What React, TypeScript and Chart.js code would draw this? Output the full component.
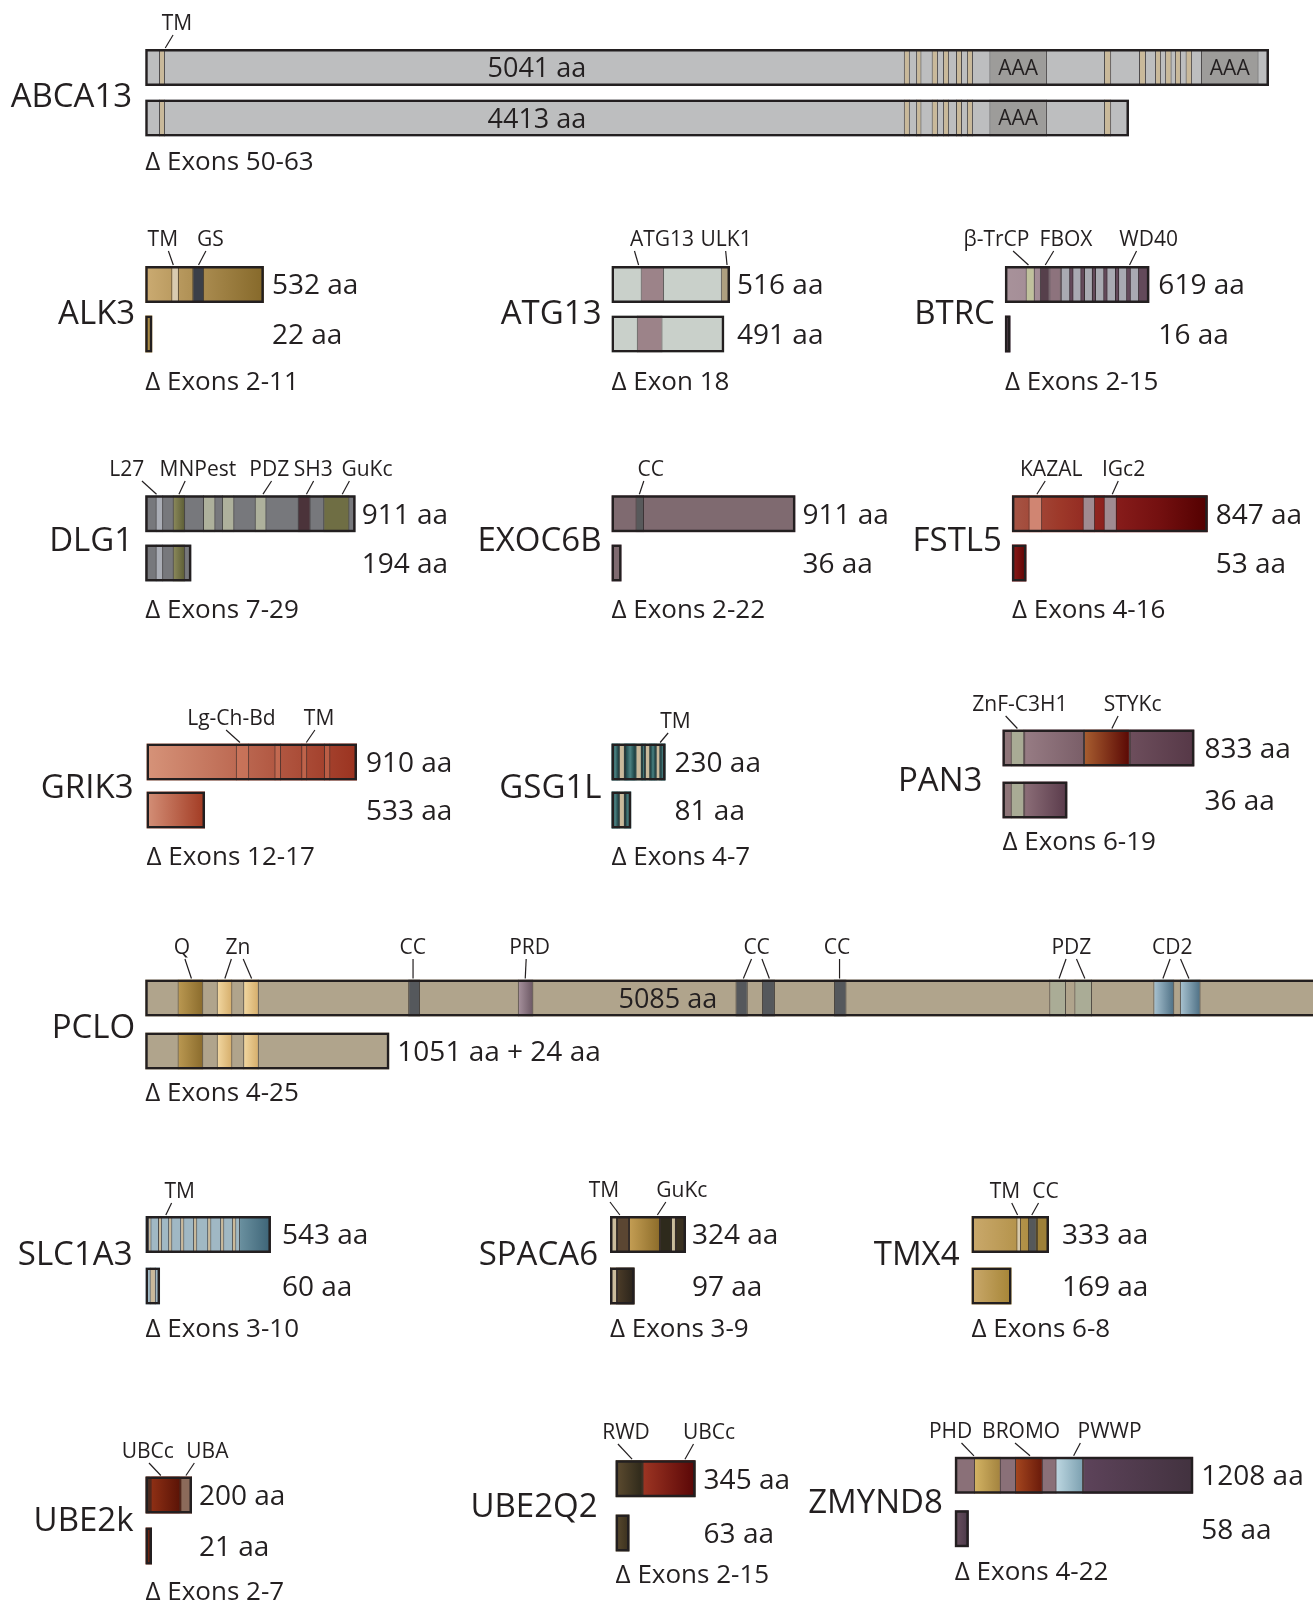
import React, { useEffect, useRef } from 'react';
import { Chart, registerables } from 'chart.js';

Chart.register(...registerables);

type Seg = [number, number, string];
type Lbl = [string, number, [number, number][]];

const W = 1313;
const H = 1600;
const INK = '#231f20';
const DOMAIN_EDGE = 'rgba(40,36,37,0.75)';
const FAMILY = '"Open Sans", "Noto Sans", sans-serif';
const FS = { name: 33, aa: 28, delta: 26, label: 21, aaa: 21, inner: 27 };

// ---------------- data (amino-acid units) ----------------
const ABCA13_AA = [5041, 4413];
const ABCA13_DRAWN = [5041, 4413];
const ABCA13_MAIN: Seg[] = [
  [62, 89, 'tm'],
  [3403, 3430, 'tm'], [3458, 3482, 'tm'], [3528, 3556, 'tm'], [3579, 3606, 'tm'], [3637, 3664, 'tm'], [3686, 3713, 'tm'],
  [3787, 4045, 'aaa'],
  [4301, 4333, 'tm'],
  [4458, 4489, 'tm'], [4530, 4557, 'tm'], [4575, 4604, 'tm'], [4619, 4646, 'tm'], [4667, 4696, 'tm'],
  [4736, 4994, 'aaa'],
];
const ABCA13_ISO: Seg[] = [
  [62, 89, 'tm'],
  [3403, 3430, 'tm'], [3458, 3482, 'tm'], [3528, 3556, 'tm'], [3579, 3606, 'tm'], [3637, 3664, 'tm'], [3686, 3713, 'tm'],
  [3787, 4045, 'aaa'],
  [4301, 4333, 'tm'],
];
const ABCA13_LABELS: Lbl[] = [['TM', 142, [[125, 90]]]];

const ALK3_AA = [532, 22];
const ALK3_DRAWN = [532, 32];
const ALK3_MAIN: Seg[] = [[117, 151, 'tm'], [211, 264, 'gs']];
const ALK3_ISO: Seg[] = [];
const ALK3_LABELS: Lbl[] = [['TM', 79, [[104, 126]]], ['GS', 292, [[272, 239]]]];

const ATG13_AA = [516, 491];
const ATG13_DRAWN = [516, 491];
const ATG13_MAIN: Seg[] = [[127, 229, 'atg'], [476, 512, 'ulk']];
const ATG13_ISO: Seg[] = [[110, 222, 'atg']];
const ATG13_LABELS: Lbl[] = [['ATG13', 220, [[100, 118]]], ['ULK1', 499, [[497, 503]]]];

const BTRC_AA = [619, 16];
const BTRC_DRAWN = [619, 24];
const BTRC_MAIN: Seg[] = [
  [89, 128, 'olive'], [150, 191, 'dark'], [191, 239, 'mauve'], [239, 619, 'wdbg'],
  [239, 280, 'wd'], [289, 328, 'wd'], [339, 377, 'wd'], [386, 426, 'wd'], [435, 476, 'wd'], [485, 524, 'wd'], [535, 575, 'wd'],
];
const BTRC_ISO: Seg[] = [];
const BTRC_LABELS: Lbl[] = [['β-TrCP', -36, [[35, 101]]], ['FBOX', 262, [[209, 173]]], ['WD40', 616, [[564, 534]]]];

const DLG1_AA = [911, 194];
const DLG1_DRAWN = [911, 200];
const DLG1_MAIN: Seg[] = [
  [45, 78, 'l27'], [119, 173, 'olive'], [250, 304, 'sage'], [332, 386, 'sage'], [474, 525, 'sage'], [660, 716, 'sh3'], [771, 884, 'gukc'],
];
const DLG1_ISO: Seg[] = [[45, 78, 'l27'], [119, 173, 'olive']];
const DLG1_LABELS: Lbl[] = [
  ['L27', -80, [[-14, 49]]], ['MNPest', 228, [[173, 146]]], ['PDZ', 537, [[547, 510]]], ['SH3', 727, [[729, 698]]], ['GuKc', 960, [[884, 853]]],
];

const EXOC6B_AA = [911, 36];
const EXOC6B_DRAWN = [911, 50];
const EXOC6B_MAIN: Seg[] = [[119, 161, 'cc']];
const EXOC6B_ISO: Seg[] = [];
const EXOC6B_LABELS: Lbl[] = [['CC', 194, [[160, 138]]]];

const FSTL5_AA = [847, 53];
const FSTL5_DRAWN = [847, 63];
const FSTL5_MAIN: Seg[] = [[72, 131, 'kazal'], [306, 360, 'mg'], [397, 454, 'mg']];
const FSTL5_ISO: Seg[] = [];
const FSTL5_LABELS: Lbl[] = [['KAZAL', 170, [[144, 108]]], ['IGc2', 483, [[460, 434]]]];

const GRIK3_AA = [910, 533];
const GRIK3_DRAWN = [910, 253];
const GRIK3_MAIN: Seg[] = [[386, 444, 'seg'], [553, 582, 'seg'], [669, 695, 'seg'], [767, 795, 'seg']];
const GRIK3_ISO: Seg[] = [];
const GRIK3_LABELS: Lbl[] = [['Lg-Ch-Bd', 367, [[344, 404]]], ['TM', 746, [[728, 691]]]];

const GSG1L_AA = [230, 81];
const GSG1L_DRAWN = [230, 84];
const GSG1L_MAIN: Seg[] = [
  [0, 31, 'teal'], [31, 57, 'tm'], [57, 102, 'teal'], [102, 129, 'tm'], [129, 142, 'teal'], [142, 165, 'tm'],
  [165, 188, 'teal'], [188, 208, 'tm'], [208, 230, 'teal'],
];
const GSG1L_ISO: Seg[] = [[0, 31, 'teal'], [31, 57, 'tm'], [57, 84, 'teal']];
const GSG1L_LABELS: Lbl[] = [['TM', 272, [[241, 207]]]];

const PAN3_AA = [833, 36];
const PAN3_DRAWN = [833, 282];
const PAN3_MAIN: Seg[] = [[36, 95, 'znf'], [95, 354, 'm1'], [354, 553, 'styk'], [553, 833, 'm2']];
const PAN3_ISO: Seg[] = [[36, 95, 'znf'], [95, 282, 'm3']];
const PAN3_LABELS: Lbl[] = [['ZnF-C3H1', 76, [[14, 65]]], ['STYKc', 565, [[502, 475]]]];

const PCLO_AA = [5085, 1051];
const PCLO_EXTRA_AA = 24;
const PCLO_DRAWN = [5085, 1051];
const PCLO_MAIN: Seg[] = [
  [139.5, 250, 'q'], [308, 375, 'zn'], [422, 489, 'zn'], [1132, 1183, 'cc'], [1604, 1671, 'prd'],
  [2541, 2594, 'cc'], [2655, 2711, 'cc'], [2965, 3019, 'cc'], [3892, 3964, 'pdz'], [4000, 4076, 'pdz'],
  [4340, 4430, 'cd2'], [4454, 4543, 'cd2'],
];
const PCLO_ISO: Seg[] = [[139.5, 250, 'q'], [308, 375, 'zn'], [422, 489, 'zn']];
const PCLO_LABELS: Lbl[] = [
  ['Q', 158, [[171, 199]]], ['Zn', 399, [[371, 343], [422, 458]]], ['CC', 1152, [[1153, 1153]]], ['PRD', 1655, [[1640, 1636]]],
  ['CC', 2632, [[2610, 2575], [2655, 2687]]], ['CC', 2978, [[2989, 2989]]],
  ['PDZ', 3987, [[3964, 3934], [4009, 4045]]], ['CD2', 4421, [[4412, 4381], [4457, 4493]]],
];

const SLC1A3_AA = [543, 60];
const SLC1A3_DRAWN = [543, 63];
const SLC1A3_MAIN: Seg[] = [
  [11, 26, 'tm'], [54, 72, 'tm'], [98, 116, 'tm'], [150, 168, 'tm'], [206, 224, 'tm'], [267, 285, 'tm'],
  [323, 341, 'tm'], [374, 393, 'tm'], [405, 543, 'dark'],
];
const SLC1A3_ISO: Seg[] = [[18, 45, 'tm']];
const SLC1A3_LABELS: Lbl[] = [['TM', 148, [[113, 88]]]];

const SPACA6_AA = [324, 97];
const SPACA6_DRAWN = [324, 105];
const SPACA6_MAIN: Seg[] = [[0, 30, 'tm'], [30, 81, 'brown'], [81, 213, 'gold'], [213, 260, 'black'], [260, 281, 'tm'], [281, 324, 'dend']];
const SPACA6_ISO: Seg[] = [[0, 30, 'tm'], [30, 105, 'isoDark']];
const SPACA6_LABELS: Lbl[] = [['TM', -26, [[0, 42]]], ['GuKc', 306, [[238, 202]]]];

const TMX4_AA = [333, 169];
const TMX4_DRAWN = [333, 172];
const TMX4_MAIN: Seg[] = [[193, 213, 'tm'], [243, 281, 'cc'], [281, 333, 'end']];
const TMX4_ISO: Seg[] = [];
const TMX4_LABELS: Lbl[] = [['TM', 144, [[173, 198]]], ['CC', 318, [[288, 259]]]];

const UBE2K_AA = [200, 21];
const UBE2K_DRAWN = [200, 28];
const UBE2K_MAIN: Seg[] = [[0, 22, 'dk'], [22, 150, 'ubcc'], [150, 200, 'uba']];
const UBE2K_ISO: Seg[] = [];
const UBE2K_LABELS: Lbl[] = [['UBCc', 10, [[15, 66]]], ['UBA', 266, [[210, 174]]]];

const UBE2Q2_AA = [345, 63];
const UBE2Q2_DRAWN = [345, 60];
const UBE2Q2_MAIN: Seg[] = [[0, 116, 'rwd'], [116, 345, 'ubcc']];
const UBE2Q2_ISO: Seg[] = [];
const UBE2Q2_LABELS: Lbl[] = [['RWD', 45, [[10, 71]]], ['UBCc', 403, [[336, 299]]]];

const ZMYND8_AA = [1208, 58];
const ZMYND8_DRAWN = [1208, 71];
const ZMYND8_MAIN: Seg[] = [[97, 233, 'phd'], [305, 446, 'bromo'], [510, 650, 'pwwp'], [650, 1208, 'dk']];
const ZMYND8_ISO: Seg[] = [];
const ZMYND8_LABELS: Lbl[] = [['PHD', -21, [[34, 97]]], ['BROMO', 336, [[305, 381]]], ['PWWP', 784, [[636, 602]]]];

const PROTEINS = [
  { id: 'ABCA13', aa: ABCA13_AA, drawn: ABCA13_DRAWN, main: ABCA13_MAIN, iso: ABCA13_ISO, labels: ABCA13_LABELS, delta: 'Δ Exons 50-63' },
  { id: 'ALK3', aa: ALK3_AA, drawn: ALK3_DRAWN, main: ALK3_MAIN, iso: ALK3_ISO, labels: ALK3_LABELS, delta: 'Δ Exons 2-11' },
  { id: 'ATG13', aa: ATG13_AA, drawn: ATG13_DRAWN, main: ATG13_MAIN, iso: ATG13_ISO, labels: ATG13_LABELS, delta: 'Δ Exon 18' },
  { id: 'BTRC', aa: BTRC_AA, drawn: BTRC_DRAWN, main: BTRC_MAIN, iso: BTRC_ISO, labels: BTRC_LABELS, delta: 'Δ Exons 2-15' },
  { id: 'DLG1', aa: DLG1_AA, drawn: DLG1_DRAWN, main: DLG1_MAIN, iso: DLG1_ISO, labels: DLG1_LABELS, delta: 'Δ Exons 7-29' },
  { id: 'EXOC6B', aa: EXOC6B_AA, drawn: EXOC6B_DRAWN, main: EXOC6B_MAIN, iso: EXOC6B_ISO, labels: EXOC6B_LABELS, delta: 'Δ Exons 2-22' },
  { id: 'FSTL5', aa: FSTL5_AA, drawn: FSTL5_DRAWN, main: FSTL5_MAIN, iso: FSTL5_ISO, labels: FSTL5_LABELS, delta: 'Δ Exons 4-16' },
  { id: 'GRIK3', aa: GRIK3_AA, drawn: GRIK3_DRAWN, main: GRIK3_MAIN, iso: GRIK3_ISO, labels: GRIK3_LABELS, delta: 'Δ Exons 12-17' },
  { id: 'GSG1L', aa: GSG1L_AA, drawn: GSG1L_DRAWN, main: GSG1L_MAIN, iso: GSG1L_ISO, labels: GSG1L_LABELS, delta: 'Δ Exons 4-7' },
  { id: 'PAN3', aa: PAN3_AA, drawn: PAN3_DRAWN, main: PAN3_MAIN, iso: PAN3_ISO, labels: PAN3_LABELS, delta: 'Δ Exons 6-19' },
  { id: 'PCLO', aa: PCLO_AA, drawn: PCLO_DRAWN, main: PCLO_MAIN, iso: PCLO_ISO, labels: PCLO_LABELS, delta: 'Δ Exons 4-25' },
  { id: 'SLC1A3', aa: SLC1A3_AA, drawn: SLC1A3_DRAWN, main: SLC1A3_MAIN, iso: SLC1A3_ISO, labels: SLC1A3_LABELS, delta: 'Δ Exons 3-10' },
  { id: 'SPACA6', aa: SPACA6_AA, drawn: SPACA6_DRAWN, main: SPACA6_MAIN, iso: SPACA6_ISO, labels: SPACA6_LABELS, delta: 'Δ Exons 3-9' },
  { id: 'TMX4', aa: TMX4_AA, drawn: TMX4_DRAWN, main: TMX4_MAIN, iso: TMX4_ISO, labels: TMX4_LABELS, delta: 'Δ Exons 6-8' },
  { id: 'UBE2k', aa: UBE2K_AA, drawn: UBE2K_DRAWN, main: UBE2K_MAIN, iso: UBE2K_ISO, labels: UBE2K_LABELS, delta: 'Δ Exons 2-7' },
  { id: 'UBE2Q2', aa: UBE2Q2_AA, drawn: UBE2Q2_DRAWN, main: UBE2Q2_MAIN, iso: UBE2Q2_ISO, labels: UBE2Q2_LABELS, delta: 'Δ Exons 2-15' },
  { id: 'ZMYND8', aa: ZMYND8_AA, drawn: ZMYND8_DRAWN, main: ZMYND8_MAIN, iso: ZMYND8_ISO, labels: ZMYND8_LABELS, delta: 'Δ Exons 4-22' },
];

// ---------------- layout (pixels) ----------------
type Lay = { x0: number; ppa: number; rows: number[]; nameY: number; nameGap: number; labelY: number; deltaY: number; aaGap: number; inside?: (number | null)[]; isoAtEnd?: boolean };
const LAYOUT: Record<string, Lay> = {
  ABCA13: { x0: 145.2, ppa: 0.22293, rows: [67.5, 118], nameY: 95, nameGap: 13, labelY: 23, deltaY: 161, aaGap: 8, inside: [1757, 1757] },
  ALK3: { x0: 145.2, ppa: 0.2231, rows: [284.5, 334], nameY: 312, nameGap: 10, labelY: 239, deltaY: 381, aaGap: 8 },
  ATG13: { x0: 611.5, ppa: 0.2297, rows: [284.5, 334], nameY: 312, nameGap: 10, labelY: 239, deltaY: 381, aaGap: 7 },
  BTRC: { x0: 1004.9, ppa: 0.2334, rows: [284.5, 334], nameY: 312, nameGap: 10, labelY: 239, deltaY: 381, aaGap: 9 },
  DLG1: { x0: 145.2, ppa: 0.231, rows: [513.7, 563], nameY: 539, nameGap: 12, labelY: 469, deltaY: 609, aaGap: 6 },
  EXOC6B: { x0: 611.5, ppa: 0.2019, rows: [513.7, 563], nameY: 539, nameGap: 10, labelY: 469, deltaY: 609, aaGap: 7 },
  FSTL5: { x0: 1011.9, ppa: 0.2312, rows: [513.7, 563], nameY: 539, nameGap: 10, labelY: 469, deltaY: 609, aaGap: 8 },
  GRIK3: { x0: 146.5, ppa: 0.2313, rows: [762, 810], nameY: 786, nameGap: 13, labelY: 718, deltaY: 856, aaGap: 9 },
  GSG1L: { x0: 611.5, ppa: 0.235, rows: [762, 810], nameY: 786, nameGap: 10, labelY: 721, deltaY: 856, aaGap: 9 },
  PAN3: { x0: 1002.4, ppa: 0.2305, rows: [748, 800], nameY: 779, nameGap: 20, labelY: 704, deltaY: 841, aaGap: 10 },
  PCLO: { x0: 145.2, ppa: 0.2323, rows: [998, 1051], nameY: 1026, nameGap: 10, labelY: 947, deltaY: 1092, aaGap: 8, inside: [2250, null], isoAtEnd: true },
  SLC1A3: { x0: 145.5, ppa: 0.231, rows: [1234.5, 1286], nameY: 1253, nameGap: 13, labelY: 1191, deltaY: 1328, aaGap: 11 },
  SPACA6: { x0: 610, ppa: 0.2346, rows: [1234.5, 1286], nameY: 1253, nameGap: 12, labelY: 1190, deltaY: 1328, aaGap: 6 },
  TMX4: { x0: 971.5, ppa: 0.2327, rows: [1234.5, 1286], nameY: 1253, nameGap: 12, labelY: 1191, deltaY: 1328, aaGap: 13 },
  UBE2k: { x0: 145.5, ppa: 0.2325, rows: [1495, 1546], nameY: 1519, nameGap: 12, labelY: 1451, deltaY: 1591, aaGap: 7 },
  UBE2Q2: { x0: 615.6, ppa: 0.2319, rows: [1478.7, 1533], nameY: 1505, nameGap: 18, labelY: 1432, deltaY: 1574, aaGap: 8 },
  ZMYND8: { x0: 954.8, ppa: 0.1974, rows: [1475.3, 1528.7], nameY: 1501, nameGap: 12, labelY: 1431, deltaY: 1571, aaGap: 8 },
};

// ---------------- styles ----------------
const STYLE: Record<string, Record<string, string | string[]>> = {
  ABCA13: { base: '#bdbebf', tm: '#c9b99a', aaa: '#9d9c9a' },
  ALK3: { base: ['#cbab72', '#86692a'], isoBase: '#a98a45', tm: '#d8cbb0', gs: '#3b3f48' },
  ATG13: { base: '#c9d0ca', atg: '#9c8389', ulk: '#ae9f80' },
  BTRC: { base: ['#a8929a', '#93798a'], isoBase: '#5a4452', olive: '#c0c19d', mauve: '#8d737d', dark: '#56404b', wdbg: '#63495a', wd: '#a9aab2' },
  DLG1: { base: '#77787c', l27: '#aaadb5', olive: ['#8d8b5d', '#5b5c34'], sage: '#aeb19c', sh3: '#4b333a', gukc: '#6f6e44' },
  EXOC6B: { base: '#7f6a70', cc: '#58595b' },
  FSTL5: { base: ['#a65545', '#9d3829', '#8a1e1c', '#741010', '#530000'], isoBase: ['#8e1c1a', '#5c0303'], kazal: '#d08572', mg: '#a08b91' },
  GRIK3: { base: ['#d69379', '#9b3320'], isoBase: ['#d49078', '#a23a22'], seg: 'rgba(214,128,100,0.45)' },
  GSG1L: { base: '#2e5e60', teal: ['#133a3c', '#4c8182', '#133a3c'], tm: '#c9b99b' },
  PAN3: { base: '#8e7478', znf: '#a9ab95', m1: ['#977c84', '#7a5e68'], styk: ['#a85e30', '#5a0804'], m2: ['#6d4e5c', '#563847'], m3: ['#8c6e78', '#593a4a'] },
  PCLO: { base: '#b0a48c', q: ['#bb9952', '#8a6b2c'], zn: ['#f2d8a2', '#d5ad6a'], cc: '#55585c', prd: ['#a8939e', '#6a5662'], pdz: '#aaac96', cd2: ['#aac4d2', '#4d6f84'] },
  SLC1A3: { base: '#a0b8c4', tm: '#cab99a', dark: ['#6b91a0', '#3c6376'] },
  SPACA6: { base: '#5b4632', tm: '#cbbc9c', brown: '#5b4632', gold: ['#c49e54', '#8c6c2a'], black: '#2e2a1c', dend: '#3a3020', isoDark: ['#4c3c28', '#28221a'] },
  TMX4: { base: ['#caa96c', '#a68536'], tm: '#d7caad', cc: '#55585a', end: '#9e8038' },
  UBE2k: { base: '#6a2a18', isoBase: ['#7c2c15', '#5a1a0a'], dk: '#4a2a20', ubcc: ['#8f3015', '#5a1306'], uba: '#8b6a5a' },
  UBE2Q2: { base: '#4a3c26', isoBase: ['#5a4a2e', '#392f1d'], rwd: ['#5e4c30', '#2e291a'], ubcc: ['#9d3523', '#590606'] },
  ZMYND8: { base: '#8a7078', isoBase: ['#6a5060', '#4a3848'], phd: ['#d4b464', '#a2823e'], bromo: ['#a6471f', '#68190a'], pwwp: ['#bed8e2', '#7ca0b0'], dk: ['#5d435a', '#42323f'] },
};

function paint(c: any, axis: string, S: Record<string, string | string[]>) {
  const raw = c.raw;
  if (!raw) return 'rgba(0,0,0,0)';
  const spec = S[raw.k];
  if (!spec) return 'rgba(0,0,0,0)';
  if (typeof spec === 'string') return spec;
  const sc = c.chart.scales[axis];
  const a = sc ? sc.getPixelForValue(raw.x[0]) : NaN;
  const b = sc ? sc.getPixelForValue(raw.x[1]) : NaN;
  if (!isFinite(a) || !isFinite(b) || Math.abs(b - a) < 0.01) return spec[0];
  const g = c.chart.ctx.createLinearGradient(a, 0, b, 0);
  spec.forEach((col: string, i: number) => g.addColorStop(i / (spec.length - 1), col));
  return g;
}

function buildDatasets() {
  const ds: any[] = [];
  for (const p of PROTEINS) {
    const L = LAYOUT[p.id];
    const axis = 'x' + p.id;
    const S = STYLE[p.id];
    const pt = (s: number, e: number, row: number, k: string) => ({ x: [s, e], y: L.rows[row], k });
    const color = (c: any) => paint(c, axis, S);
    ds.push({
      label: p.id + ' body', xAxisID: axis, yAxisID: 'y', order: 2, borderWidth: 0, backgroundColor: color,
      data: [pt(0, p.drawn[0], 0, 'base'), pt(0, p.drawn[1], 1, S.isoBase ? 'isoBase' : 'base')],
    });
    ds.push({
      label: p.id + ' domains', xAxisID: axis, yAxisID: 'y', order: 1, backgroundColor: color,
      borderWidth: { left: 1, right: 1, top: 0, bottom: 0 }, borderColor: DOMAIN_EDGE,
      data: [...p.main.map((s) => pt(s[0], s[1], 0, s[2])), ...p.iso.map((s) => pt(s[0], s[1], 1, s[2]))],
    });
    ds.push({
      label: p.id + ' outline', xAxisID: axis, yAxisID: 'y', order: 0, backgroundColor: 'rgba(0,0,0,0)',
      borderWidth: 2.5, borderColor: INK,
      data: [pt(0, p.drawn[0], 0, 'none'), pt(0, p.drawn[1], 1, 'none')],
    });
  }
  return ds;
}

function buildScales() {
  const scales: any = {
    y: { type: 'linear', min: 0, max: H, reverse: true, display: false, bounds: 'data', offset: false, grace: 0, grid: { offset: false } },
  };
  for (const p of PROTEINS) {
    const L = LAYOUT[p.id];
    scales['x' + p.id] = {
      type: 'linear', axis: 'x', position: 'bottom', display: false, bounds: 'data', offset: false, grace: 0,
      min: -L.x0 / L.ppa, max: (W - L.x0) / L.ppa,
    };
  }
  return scales;
}

function txt(ctx: CanvasRenderingContext2D, s: string, x: number, cy: number, size: number, align: CanvasTextAlign) {
  ctx.font = `${size}px ${FAMILY}`;
  ctx.textAlign = align;
  ctx.textBaseline = 'alphabetic';
  ctx.fillText(s, x, cy + size * 0.357);
}

const textPlugin = {
  id: 'proteinText',
  afterDatasetsDraw(chart: any) {
    const ctx: CanvasRenderingContext2D = chart.ctx;
    const sy = chart.scales.y;
    const Y = (v: number) => sy.getPixelForValue(v);
    ctx.save();
    ctx.fillStyle = INK;
    ctx.strokeStyle = INK;
    for (const p of PROTEINS) {
      const L = LAYOUT[p.id];
      const sx = chart.scales['x' + p.id];
      const X = (v: number) => sx.getPixelForValue(v);
      txt(ctx, p.id, X(0) - L.nameGap, Y(L.nameY), FS.name, 'right');
      const outX = X(p.drawn[0]) + L.aaGap;
      for (let r = 0; r < 2; r++) {
        let s = `${p.aa[r]} aa`;
        if (p.id === 'PCLO' && r === 1) s = `${p.aa[r]} aa + ${PCLO_EXTRA_AA} aa`;
        const inside = L.inside ? L.inside[r] : null;
        if (inside !== null && inside !== undefined) {
          txt(ctx, s, X(inside), Y(L.rows[r]), FS.inner, 'center');
        } else if (r === 1 && L.isoAtEnd) {
          txt(ctx, s, X(p.drawn[1]) + L.aaGap, Y(L.rows[r]), FS.aa, 'left');
        } else {
          txt(ctx, s, outX, Y(L.rows[r]), FS.aa, 'left');
        }
      }
      [p.main, p.iso].forEach((segs, r) => {
        segs.forEach((s) => {
          if (s[2] === 'aaa') txt(ctx, 'AAA', X((s[0] + s[1]) / 2), Y(L.rows[r]), FS.aaa, 'center');
        });
      });
      txt(ctx, p.delta, X(0), Y(L.deltaY), FS.delta, 'left');
      const barTop = Y(L.rows[0]) - 18.5;
      ctx.lineWidth = 1.2;
      for (const lb of p.labels) {
        txt(ctx, lb[0], X(lb[1]), Y(L.labelY), FS.label, 'center');
        for (const ln of lb[2]) {
          ctx.beginPath();
          ctx.moveTo(X(ln[0]), Y(L.labelY) + 12);
          ctx.lineTo(X(ln[1]), barTop - 1);
          ctx.stroke();
        }
      }
    }
    ctx.restore();
  },
};

export default function App() {
  const ref = useRef<HTMLCanvasElement | null>(null);
  useEffect(() => {
    if (!ref.current) return;
    const chart = new Chart(ref.current, {
      type: 'bar',
      data: { datasets: buildDatasets() },
      options: {
        indexAxis: 'y',
        responsive: false,
        maintainAspectRatio: false,
        devicePixelRatio: 1,
        animation: false,
        events: [],
        layout: { padding: 0 },
        scales: buildScales(),
        datasets: { bar: { barThickness: 37, grouped: false, borderSkipped: false, inflateAmount: 0 } as any },
        plugins: { legend: { display: false }, tooltip: { enabled: false }, title: { display: false } },
      } as any,
      plugins: [textPlugin as any],
    });
    return () => chart.destroy();
  }, []);
  return (
    <div style={{ position: 'absolute', left: 0, top: 0, width: W, height: H, background: '#fff' }}>
      <canvas ref={ref} width={W} height={H} style={{ display: 'block', width: W, height: H }} />
    </div>
  );
}
